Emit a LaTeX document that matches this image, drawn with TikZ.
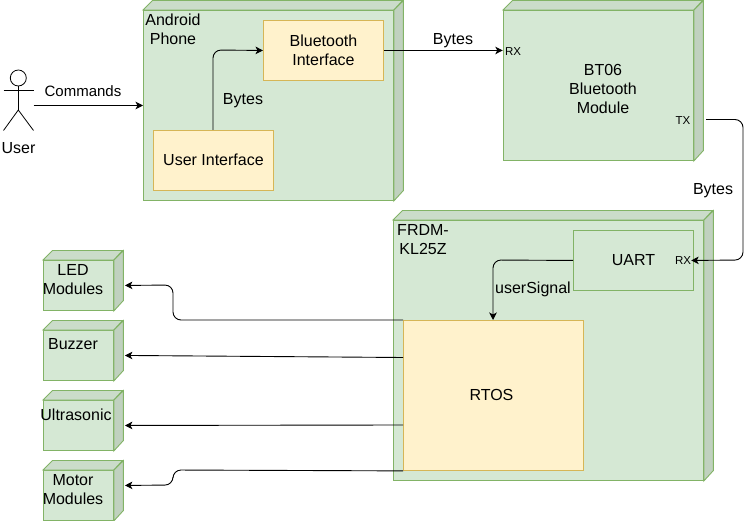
\documentclass[tikz,border=0pt]{standalone}
\usepackage{fontspec}
\setmainfont{Liberation Sans}
\usetikzlibrary{arrows.meta,calc}
\definecolor{gfill}{HTML}{D5E8D4}
\definecolor{gline}{HTML}{82B366}
\definecolor{gtop}{HTML}{CBDCCA}
\definecolor{gside}{HTML}{C0D1BF}
\definecolor{yfill}{HTML}{FFF2CC}
\definecolor{yline}{HTML}{D6B656}
\tikzset{
  x=1pt,y=-1pt,
  frontbox/.style={draw=gline,fill=gfill,line width=0.9pt,inner sep=0,anchor=north west},
  yellowbox/.style={draw=yline,fill=yfill,line width=0.9pt,inner sep=0,anchor=north west,font=\fontsize{16}{19}\selectfont,align=center},
  greenbox/.style={frontbox,font=\fontsize{16}{19}\selectfont,align=center},
  txt/.style={inner sep=0,font=\fontsize{16}{19}\selectfont,align=center},
  smalltxt/.style={inner sep=0,font=\fontsize{11.5}{14}\selectfont},
  conn/.style={draw=black,line width=0.9pt,-{Stealth[length=7.5pt,width=7.5pt,inset=2pt]},rounded corners=8pt},
  stick/.style={draw=black,line width=0.8pt},
}
% name, left, top, width, height, depth
\newcommand{\cubebox}[6]{%
  \node[frontbox,minimum width=#4pt,minimum height=#5pt] (#1) at (#2,#3) {};
  \draw[draw=gline,fill=gtop,line width=0.9pt] (#1.north west) -- ++(#6,-#6) -- ++(#4,0) -- (#1.north east) -- cycle;
  \draw[draw=gline,fill=gside,line width=0.9pt] (#1.north east) -- ++(#6,-#6) -- ++(0,#5) -- (#1.south east) -- cycle;
}
\begin{document}
\begin{tikzpicture}
\useasboundingbox (0,0) rectangle (752,521);
\cubebox{phone}{143}{10}{250}{190}{9.5}
\cubebox{btmod}{503}{10}{190}{150}{9.5}
\cubebox{frdm}{393}{220}{310}{260}{9.5}
\cubebox{led}{43}{260}{70}{50}{9.5}
\cubebox{buzzer}{43}{330}{70}{50}{9.5}
\cubebox{ultra}{43}{400}{70}{50}{9.5}
\cubebox{motor}{43}{470}{70}{50}{9.5}

\node[yellowbox,minimum width=120pt,minimum height=60pt] (btif) at (263,20) {Bluetooth\\Interface};
\node[yellowbox,minimum width=120pt,minimum height=60pt] (ui) at (153,130) {\raisebox{1.5pt}{User Interface}};
\node[greenbox,minimum width=120pt,minimum height=60pt] (uart) at (573,230) {\raisebox{1.5pt}{UART}};
\node[yellowbox,minimum width=180pt,minimum height=150pt] (rtos) at (403,320) {\raisebox{1.5pt}{RTOS\hspace{4pt}}};

\node[txt] (phonelbl) at (173,29.5) {Android\\Phone};
\node[txt] (btmodlbl) at (603,89) {BT06\\Bluetooth\\Module};
\node[txt] (frdmlbl) at (423,239.5) {FRDM-\\KL25Z};
\node[txt] (ledlbl) at (73,279.5) {LED\\Modules};
\node[txt] (buzzerlbl) at (73,344.5) {Buzzer};
\node[txt] (ultralbl) at (76,414.5) {Ultrasonic};
\node[txt] (motorlbl) at (73,489.5) {Motor\\Modules};

\node[smalltxt] (rxa) at (513,51.5) {RX};
\node[smalltxt] (txa) at (683,121) {TX};
\node[smalltxt] (rxb) at (683,261) {RX};

% actor
\draw[stick] (18.3,78) circle (8);
\draw[stick] (18.3,86) -- (18.3,110);
\draw[stick] (3.5,90) -- (33.5,90);
\draw[stick] (3.5,130.5) -- (18.3,110) -- (33.5,130.5);
\node[txt] (userlbl) at (18.5,148) {User};
\coordinate (useractor) at (33.5,105.5);
\coordinate (txout) at (706,119.5);

% connectors
\draw[conn] (useractor) -- (phone.west |- useractor);
\draw[conn] (ui.north -| 213,0) -- (213,50) -- (btif.west);
\draw[conn] (btif.east) -- ($(btif.east -| rxa.west)+(-2,0)$);
\draw[conn] (txout) -- (743,119.5) -- (743,260) -- (rxb.east |- uart.east);
\draw[conn] (uart.west) -- (493,260) -- (493,320);
\draw[conn] (rtos.north west) -- (173,320) -- (173,285) -- ($(led.east)+(11,0)$);
\draw[conn] (403,357.5) -- ($(buzzer.east)+(11,0)$);
\draw[conn] (403,425) -- ($(ultra.east)+(11,0)$);
\draw[conn] (rtos.south west) -- (173,470) -- (173,485) -- ($(motor.east)+(11,-10)$);

% connector labels
\node[txt,font=\fontsize{15}{18}\selectfont] (cmdlbl) at (83,91) {Commands};
\node[txt] (bytes1) at (243,100.5) {Bytes};
\node[txt] (bytes2) at (453,40.5) {Bytes};
\node[txt] (bytes3) at (713,190.5) {Bytes};
\node[txt] (siglbl) at (533,289.5) {userSignal};
\end{tikzpicture}
\end{document}
